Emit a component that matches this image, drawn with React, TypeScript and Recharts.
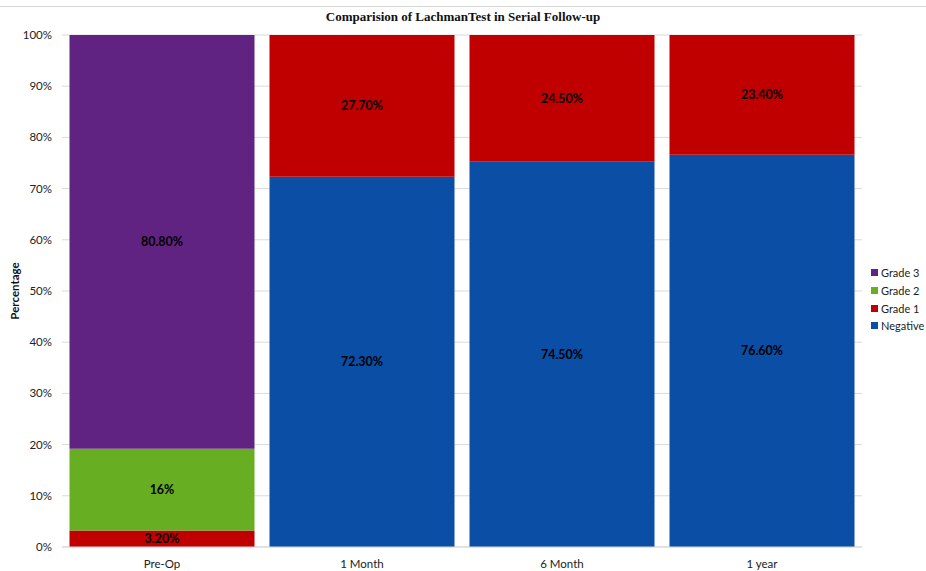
import React from 'react';
import {
  BarChart,
  Bar,
  XAxis,
  YAxis,
  CartesianGrid,
  LabelList,
  Label,
} from 'recharts';

const stages = ['Pre-Op', '1 Month', '6 Month', '1 year'];
const negative = [0, 72.3, 74.5, 76.6];
const grade1 = [3.2, 27.7, 24.5, 23.4];
const grade2 = [16, 0, 0, 0];
const grade3 = [80.8, 0, 0, 0];
const yTicks = [0, 0.1, 0.2, 0.3, 0.4, 0.5, 0.6, 0.7, 0.8, 0.9, 1];

const SERIES = [
  { key: 'negative', name: 'Negative', color: '#0B4EA6' },
  { key: 'grade1', name: 'Grade 1', color: '#C00000' },
  { key: 'grade2', name: 'Grade 2', color: '#67AE22' },
  { key: 'grade3', name: 'Grade 3', color: '#612381' },
];

const data = stages.map((stage, i) => ({
  stage,
  negative: negative[i],
  grade1: grade1[i],
  grade2: grade2[i],
  grade3: grade3[i],
}));

const FONT = 'Lato, "Open Sans", sans-serif';

const fmtLabel = (v: any) => {
  const n = Number(v);
  if (!n) return '';
  return Number.isInteger(n) ? `${n}%` : `${n.toFixed(2)}%`;
};

// legend sits outside the chart so it doesn't shrink the plot area
const LegendBox = () => (
  <div style={{ position: 'absolute', left: 871, top: 264, fontFamily: FONT, fontSize: 11, color: '#222' }}>
    {[...SERIES].reverse().map((s) => (
      <div key={s.key} style={{ display: 'flex', alignItems: 'center', height: 17.7 }}>
        <span style={{ width: 7, height: 7, background: s.color, marginRight: 3, display: 'inline-block' }} />
        {s.name}
      </div>
    ))}
  </div>
);

export default function App() {
  return (
    <div style={{ position: 'fixed', left: 0, top: 0, width: 926, height: 571, background: '#fff' }}>
      <div style={{ position: 'absolute', left: 0, top: 6, width: 926, borderTop: '1px solid #d6d6d6' }} />
      <div
        style={{
          position: 'absolute',
          top: 9,
          left: 0,
          width: 926,
          textAlign: 'center',
          fontFamily: '"Liberation Serif", "Times New Roman", serif',
          fontWeight: 'bold',
          fontSize: 13,
          color: '#111',
        }}
      >
        Comparision of LachmanTest in Serial Follow-up
      </div>
      <BarChart
        width={926}
        height={571}
        data={data}
        stackOffset="expand"
        barCategoryGap={7.5}
        margin={{ top: 35, right: 64, bottom: 0, left: 0 }}
      >
        <CartesianGrid vertical={false} stroke="#d9d9d9" />
        <XAxis
          dataKey="stage"
          axisLine={{ stroke: '#d9d9d9' }}
          tickLine={false}
          tickSize={0}
          tickMargin={13}
          height={24}
          tick={{ fontSize: 11.5, fill: '#222', fontFamily: FONT }}
        />
        <YAxis
          domain={[0, 1]}
          ticks={yTicks}
          width={62}
          axisLine={false}
          tickLine={false}
          tickSize={0}
          tickMargin={10}
          tickFormatter={(v: number) => `${Math.round(v * 100)}%`}
          tick={{ fontSize: 11.5, fill: '#222', fontFamily: FONT }}
        >
          <Label
            value="Percentage"
            angle={-90}
            position="insideLeft"
            offset={15}
            style={{ fontSize: 11.5, fontWeight: 'bold', fill: '#111', fontFamily: FONT, textAnchor: 'middle' }}
          />
        </YAxis>
        {SERIES.map((s) => (
          <Bar key={s.key} dataKey={s.key} name={s.name} stackId="a" fill={s.color} isAnimationActive={false}>
            <LabelList
              dataKey={s.key}
              position="center"
              formatter={fmtLabel}
              style={{ fontSize: 12.5, fontWeight: 'bold', fill: '#000', fontFamily: FONT }}
            />
          </Bar>
        ))}
      </BarChart>
      <LegendBox />
    </div>
  );
}
